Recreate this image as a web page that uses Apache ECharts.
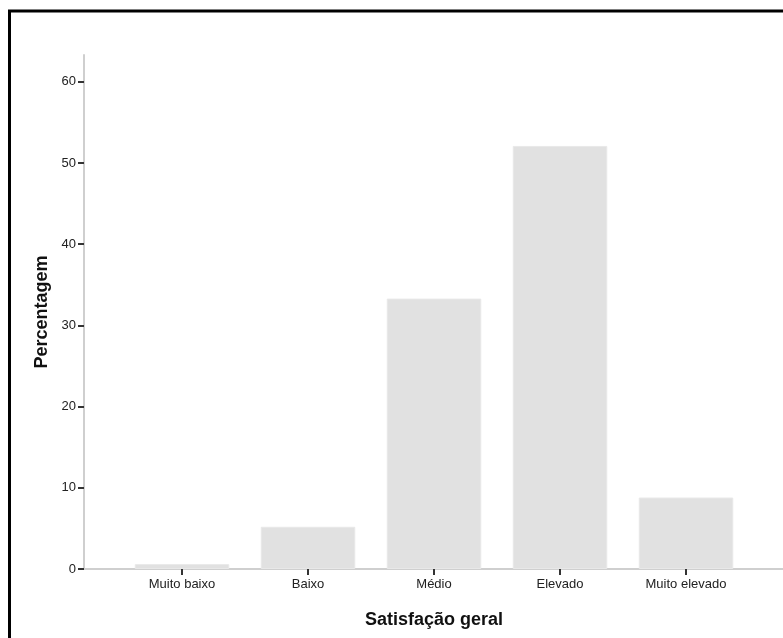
<!DOCTYPE html>
<html>
<head>
<meta charset="utf-8">
<script src="https://cdn.jsdelivr.net/npm/echarts@6/dist/echarts.min.js"></script>
<style>
html,body{margin:0;padding:0;background:#fff;}
#chart{width:783px;height:638px;}
</style>
</head>
<body>
<div id="chart"></div>
<script>
const categories = ['Muito baixo', 'Baixo', 'Médio', 'Elevado', 'Muito elevado'];
const percentages = [0.6, 5.2, 33.3, 52.1, 8.8];
const yTickValues = [0, 10, 20, 30, 40, 50, 60];
const yMin = 0;
const yMax = 63.3;
const xTitle = 'Satisfação geral';
const yTitle = 'Percentagem';

const FONT = '"Liberation Sans", Arial, sans-serif';
const chart = echarts.init(document.getElementById('chart'), null, {renderer: 'canvas'});

const gridTop = 55, gridBottom = 69;

chart.setOption({
  animation: false,
  backgroundColor: '#ffffff',
  textStyle: {fontFamily: FONT},
  graphic: [{
    type: 'rect',
    shape: {x: 9.5, y: 11, width: 800, height: 700},
    style: {fill: null, stroke: '#000', lineWidth: 3},
    silent: true
  }],
  grid: [
    {left: 84, right: 0, top: gridTop, bottom: gridBottom},
    {left: 119, width: 630, top: gridTop, bottom: gridBottom}
  ],
  xAxis: [
    {
      gridIndex: 0, type: 'value', min: 0, max: 1,
      axisLine: {show: true, onZero: false, lineStyle: {color: '#cfcfcf', width: 2}},
      axisTick: {show: false}, axisLabel: {show: false}, splitLine: {show: false}
    },
    {
      gridIndex: 1, type: 'category', data: categories,
      axisLine: {show: false},
      axisTick: {show: true, alignWithLabel: true, length: 6, lineStyle: {color: '#333', width: 2}},
      axisLabel: {color: '#222', fontSize: 13, fontFamily: FONT, margin: 9},
      name: xTitle, nameLocation: 'middle', nameGap: 42,
      nameTextStyle: {color: '#111', fontSize: 18, fontWeight: 'bold', fontFamily: FONT}
    }
  ],
  yAxis: [
    {
      gridIndex: 0, type: 'value', min: yMin, max: yMax, interval: 10,
      axisLine: {show: true, lineStyle: {color: '#cfcfcf', width: 2}},
      axisTick: {show: true, length: 6, customValues: yTickValues, lineStyle: {color: '#333', width: 2}},
      axisLabel: {color: '#222', fontSize: 13, fontFamily: FONT, margin: 8, customValues: yTickValues},
      splitLine: {show: false},
      name: yTitle, nameLocation: 'middle', nameGap: 32, nameRotate: 90,
      nameTextStyle: {color: '#111', fontSize: 18, fontWeight: 'bold', fontFamily: FONT}
    },
    {
      gridIndex: 1, type: 'value', min: yMin, max: yMax,
      show: false, splitLine: {show: false}
    }
  ],
  series: [{
    type: 'bar',
    xAxisIndex: 1, yAxisIndex: 1,
    data: percentages,
    barCategoryGap: '25%',
    itemStyle: {color: '#e1e1e1', borderColor: '#e8e8e8', borderWidth: 1},
    silent: true
  }]
});
</script>
</body>
</html>
